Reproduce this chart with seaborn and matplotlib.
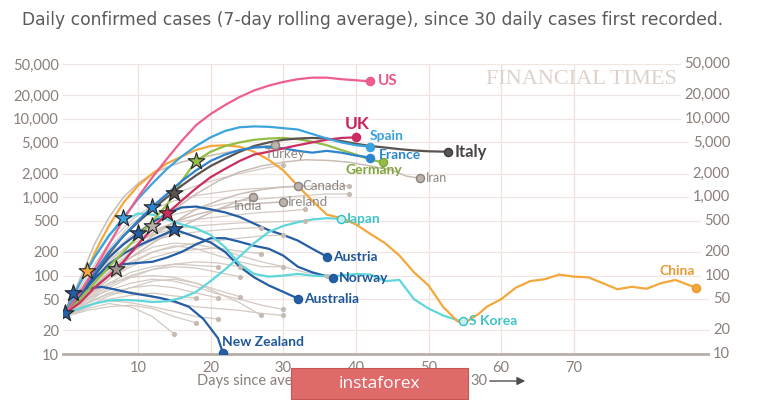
import pandas as pd
import seaborn as sns
import matplotlib.pyplot as plt
from matplotlib.patches import Rectangle
from matplotlib.ticker import NullLocator

# ---- data: days since 30 daily cases, 7-day average of daily cases ----
us_days = [0, 2, 4, 6, 8, 10, 12, 14, 16, 18, 20, 22, 24, 26, 28, 30, 32, 34, 36, 38, 40, 42]
us_vals = [33, 60, 120, 250, 520, 1000, 1800, 3100, 5200, 8300, 11500, 15000, 19000, 23000, 26500, 29500, 32000, 33500, 33500, 32000, 31000, 30000]

spain_days = [0, 2, 4, 6, 8, 10, 12, 14, 16, 18, 20, 22, 24, 26, 28, 30, 32, 34, 36, 38, 40, 42]
spain_vals = [33, 80, 170, 320, 550, 950, 1500, 2300, 3300, 4500, 5800, 7000, 7800, 8000, 7900, 7600, 7300, 6400, 5600, 5000, 4600, 4400]

france_days = [0, 2, 4, 6, 8, 10, 12, 14, 16, 18, 20, 22, 24, 26, 28, 30, 32, 34, 36, 38, 40, 42]
france_vals = [33, 60, 110, 200, 320, 500, 760, 1100, 1600, 2200, 2900, 3500, 4000, 4300, 4400, 4200, 3900, 3700, 3900, 3700, 3400, 3200]

italy_days = [0, 2, 4, 6, 8, 10, 12, 14, 16, 18, 20, 22, 24, 26, 28, 30, 32, 34, 36, 38, 40, 42, 44, 46, 48, 50, 52.7]
italy_vals = [33, 60, 110, 190, 320, 480, 700, 1000, 1400, 1900, 2500, 3100, 3800, 4500, 5000, 5400, 5600, 5700, 5600, 5200, 4800, 4500, 4300, 4100, 3950, 3850, 3800]

germany_days = [0, 2, 4, 6, 8, 10, 12, 14, 16, 18, 20, 22, 24, 26, 28, 30, 32, 34, 36, 38, 40, 42, 43.7]
germany_vals = [33, 50, 80, 130, 200, 320, 500, 800, 1600, 2900, 3800, 4500, 5000, 5400, 5600, 5700, 5500, 5100, 4600, 4000, 3500, 3000, 2800]

uk_days = [0, 2, 4, 6, 8, 10, 12, 14, 16, 18, 20, 22, 24, 26, 28, 30, 32, 34, 36, 38, 40]
uk_vals = [33, 45, 70, 100, 150, 250, 400, 620, 900, 1300, 1800, 2300, 2900, 3500, 3800, 4200, 4600, 5000, 5400, 5700, 5800]

china_days = [0, 1, 2, 3, 4, 5, 6, 8, 10, 12, 14, 16, 18, 20, 22, 24, 26, 28, 30, 32, 34, 36, 38, 40, 42, 44, 46, 48, 50, 52, 54, 55,
              57, 58, 60, 62, 64, 66, 68, 70, 72, 74, 76, 78, 80, 82, 84, 86.8]
china_vals = [33, 55, 80, 116, 190, 290, 430, 850, 1400, 2000, 2700, 3300, 4000, 4500, 4600, 4400, 3800, 3000, 2200, 1400, 900, 600, 540, 450, 340, 260, 180, 110, 75, 40, 26, 25,
              33, 40, 50, 70, 85, 90, 103, 97, 95, 80, 67, 72, 68, 80, 88, 70]

japan_days = [0, 2, 4, 6, 8, 10, 12, 14, 16, 18, 20, 22, 24, 26, 28, 30, 32, 34, 36, 37.9]
japan_vals = [33, 38, 44, 48, 49, 48, 46, 47, 52, 62, 85, 120, 175, 260, 360, 430, 480, 520, 540, 530]

skorea_days = [0, 2, 4, 6, 8, 10, 12, 14, 16, 18, 20, 22, 24, 26, 28, 30, 32, 34, 36, 38, 40, 42, 44, 46, 48, 50, 52, 54, 54.8]
skorea_vals = [33, 80, 170, 330, 500, 620, 600, 520, 450, 400, 330, 230, 140, 105, 97, 100, 105, 100, 98, 100, 105, 103, 85, 88, 50, 38, 31, 27, 26]

austria_days = [0, 2, 4, 6, 8, 10, 12, 14, 16, 18, 20, 22, 24, 26, 28, 30, 32, 34, 36]
austria_vals = [33, 60, 100, 170, 250, 345, 480, 620, 740, 760, 700, 640, 560, 460, 380, 330, 280, 220, 175]

norway_days = [0, 2, 4, 6, 8, 10, 12, 14, 16, 18, 20, 22, 24, 26, 28, 30, 32, 34, 36, 36.8]
norway_vals = [33, 60, 95, 125, 140, 145, 150, 170, 200, 250, 300, 300, 270, 240, 220, 180, 130, 110, 98, 92]

australia_days = [0, 2, 4, 6, 8, 10, 12, 14, 15, 16, 18, 20, 22, 24, 26, 28, 30, 32]
australia_vals = [33, 55, 90, 140, 190, 240, 290, 350, 390, 360, 310, 265, 200, 130, 95, 75, 62, 51]

nz_days = [0, 1, 3, 5, 7, 9, 11, 13, 15, 17, 19, 21, 21.7]
nz_vals = [33, 60, 68, 72, 66, 60, 56, 52, 47, 40, 28, 16, 10.3]

# named grey countries
turkey_days = [0, 2, 4, 6, 8, 10, 12, 14, 16, 18, 20, 22, 24, 26, 28, 28.8]
turkey_vals = [33, 90, 250, 550, 1000, 1500, 2000, 2400, 2800, 3100, 3400, 3700, 4000, 4300, 4550, 4650]
canada_days = [0, 3, 6, 9, 12, 15, 18, 21, 24, 27, 30, 32]
canada_vals = [33, 60, 110, 190, 320, 480, 700, 900, 1100, 1250, 1350, 1380]
india_days = [0, 3, 6, 7, 9, 12, 15, 18, 21, 24, 25.8]
india_vals = [33, 55, 100, 123, 170, 260, 380, 520, 700, 900, 1020]
ireland_days = [0, 3, 6, 9, 12, 15, 18, 21, 24, 27, 30]
ireland_vals = [33, 70, 130, 220, 350, 480, 600, 700, 780, 840, 870]
iran_days = [0, 3, 6, 9, 12, 15, 18, 21, 24, 27, 30, 33, 36, 39, 42, 45, 47, 48.8]
iran_vals = [33, 80, 180, 300, 435, 700, 1100, 1600, 2100, 2500, 2800, 3000, 2950, 2800, 2500, 2200, 1850, 1750]

# other countries (unlabelled), values every 3 days from day 0
grey_step = 3
grey_vals = {
    'g01': [32, 70, 150, 260, 380, 470, 520, 560, 600, 640, 660, 700],
    'g02': [31, 55, 90, 130, 170, 200, 215, 225, 205, 190],
    'g03': [30, 45, 70, 95, 120, 140, 150, 145, 130],
    'g04': [32, 50, 65, 80, 90, 85, 72, 58, 50, 42, 37],
    'g05': [31, 42, 48, 45, 40, 35, 30, 28],
    'g06': [30, 38, 44, 40, 30, 18],
    'g07': [33, 80, 180, 320, 480, 600, 700, 800, 900, 950, 1000, 1050, 1100, 1100],
    'g08': [33, 90, 220, 450, 700, 900, 1050, 1150, 1250, 1300, 1350, 1380, 1400, 1400],
    'g09': [31, 60, 100, 150, 200, 230, 260, 280, 300, 320, 330],
    'g10': [30, 48, 75, 100, 120, 130, 125, 110, 97],
    'g11': [32, 55, 80, 95, 100, 95, 80, 65, 54],
    'g12': [30, 40, 55, 70, 85, 90, 80, 60, 45, 31],
    'g13': [31, 65, 120, 200, 280, 330, 360, 380, 400, 410],
    'g14': [33, 100, 260, 500, 800, 1100, 1400, 1700, 2000, 2300, 2600],
    'g15': [30, 50, 80, 110, 130, 140, 135, 130],
    'g16': [32, 45, 60, 70, 75, 70, 60, 52],
    'g17': [30, 36, 40, 42, 38, 30, 25],
    'g18': [31, 75, 160, 250, 330, 400, 430, 450, 470, 480, 490, 500],
    'g19': [30, 52, 90, 140, 200, 240, 220, 180, 150, 130, 130],
    'g20': [31, 40, 50, 56, 60, 55, 52],
    'g21': [32, 60, 110, 170, 230, 260, 250, 220, 180, 150, 130, 110, 100],
    'g22': [30, 44, 58, 62, 55, 45, 40, 38, 36, 33, 31],
}

# lockdown stars
star_country = ['Australia', 'New Zealand', 'China', 'India', 'Spain', 'Austria',
                'Iran', 'France', 'UK', 'Italy', 'Norway', 'Germany']
star_day = [0, 1, 3, 7, 8, 10, 12, 12, 14, 15, 15, 18]
star_val = [33, 60, 116, 123, 550, 345, 435, 760, 620, 1130, 390, 2900]

y_ticks = [10, 20, 50, 100, 200, 500, 1000, 2000, 5000, 10000, 20000, 50000]
y_labels = ['10', '20', '50', '100', '200', '500', '1,000', '2,000', '5,000', '10,000', '20,000', '50,000']
x_ticks = [10, 20, 30, 40, 50, 60, 70]

title = 'Daily confirmed cases (7-day rolling average), since 30 daily cases first recorded.'

# ---- styling ----
series = {
    'Turkey': (turkey_days, turkey_vals), 'Canada': (canada_days, canada_vals),
    'India': (india_days, india_vals), 'Ireland': (ireland_days, ireland_vals),
    'Iran': (iran_days, iran_vals),
    'New Zealand': (nz_days, nz_vals), 'Australia': (australia_days, australia_vals),
    'Norway': (norway_days, norway_vals), 'Austria': (austria_days, austria_vals),
    'Japan': (japan_days, japan_vals), 'S Korea': (skorea_days, skorea_vals),
    'China': (china_days, china_vals), 'Germany': (germany_days, germany_vals),
    'Italy': (italy_days, italy_vals), 'France': (france_days, france_vals),
    'UK': (uk_days, uk_vals), 'Spain': (spain_days, spain_vals), 'US': (us_days, us_vals),
}
greyc = '#c9bdb5'
dblue = '#245ea5'
line_col = {'Turkey': greyc, 'Canada': greyc, 'India': greyc, 'Ireland': greyc, 'Iran': greyc,
            'New Zealand': dblue, 'Australia': dblue, 'Norway': dblue, 'Austria': dblue,
            'Japan': '#5fd6da', 'S Korea': '#5fd6da', 'China': '#f4a73a', 'Germany': '#93bd45',
            'Italy': '#5a5350', 'France': '#2c84d0', 'UK': '#cc2d60', 'Spain': '#3ba4e0', 'US': '#ee5f8d'}
text_col = {'Turkey': '#8f8681', 'Canada': '#8f8681', 'India': '#8f8681', 'Ireland': '#8f8681', 'Iran': '#8f8681',
            'New Zealand': '#1f579b', 'Australia': '#1f579b', 'Norway': '#1f579b', 'Austria': '#1f579b',
            'Japan': '#3fc3c6', 'S Korea': '#3fc3c6', 'China': '#e99a2f', 'Germany': '#7fa53a',
            'Italy': '#4a4543', 'France': '#2b86d2', 'UK': '#c7255b', 'Spain': '#3aa1dd', 'US': '#e8578a'}
# label offset in pixels from the end marker, alignment, size, bold
label_pos = {'US': (7, 0, 'left', 11, True), 'UK': (1, 13, 'center', 12.5, True),
             'Spain': (-1, 11, 'left', 10, True), 'France': (8, 3, 'left', 10, True),
             'Italy': (6, 0, 'left', 12, True), 'Germany': (-9, -8, 'center', 10, True),
             'Iran': (6, 0, 'left', 9, False), 'Turkey': (-10, -9, 'left', 9.5, False),
             'Canada': (5, 0, 'left', 9.5, False), 'India': (-5, -9, 'center', 9.5, False),
             'Ireland': (4, 0, 'left', 9.5, False), 'Japan': (4, 0, 'left', 10, True),
             'Austria': (6, 0, 'left', 10, True), 'Norway': (6, 0, 'left', 10, True),
             'Australia': (6, 0, 'left', 10, True), 'New Zealand': (-1, 11, 'left', 10, True),
             'S Korea': (6, 0, 'left', 10, True), 'China': (-1, 17, 'right', 10, True)}

rows = []
for name, (d, v) in series.items():
    for di, vi in zip(d, v):
        rows.append((name, di, vi))
df = pd.DataFrame(rows, columns=['country', 'day', 'cases'])

grows = []
for name, v in grey_vals.items():
    for i, vi in enumerate(v):
        grows.append((name, i * grey_step, vi))
gdf = pd.DataFrame(grows, columns=['country', 'day', 'cases'])

sns.set_theme(style='white')
plt.rcParams['font.family'] = ['Lato', 'DejaVu Sans']

fig = plt.figure(figsize=(7.57, 4.0), dpi=100)
ax = fig.add_axes([63 / 757, 46 / 400, (730 - 63) / 757, 290 / 400])

sns.lineplot(data=gdf, x='day', y='cases', units='country', estimator=None, sort=False,
             color='#d3c9c2', lw=0.9, ax=ax, legend=False)
gend = gdf.groupby('country').last()
ax.scatter(gend['day'], gend['cases'], s=14, color='#c6bbb3', zorder=3, lw=0)

grey_named = ['Turkey', 'Canada', 'India', 'Ireland', 'Iran']
sns.lineplot(data=df[df['country'].isin(grey_named)], x='day', y='cases', hue='country',
             hue_order=grey_named, palette=line_col, estimator=None, sort=False, lw=1.1, ax=ax, legend=False)
main = [c for c in series if c not in grey_named]
sns.lineplot(data=df[df['country'].isin(main)], x='day', y='cases', hue='country',
             hue_order=main, palette=line_col, estimator=None, sort=False, lw=1.6, ax=ax, legend=False)

ax.set_yscale('log')
ax.set_ylim(10, 50000)
ax.set_xlim(-0.32, 91.5)

# end markers and labels
for name in series:
    d, v = series[name]
    if name in grey_named:
        fc, ec = '#bdb3ac', '#8a817c'
    elif name in ('Japan', 'S Korea'):
        fc, ec = '#c4f0f0', '#36bcc0'
    else:
        fc, ec = line_col[name], '#3a3a3a' if name == 'Italy' else text_col[name]
    ax.scatter([d[-1]], [v[-1]], s=34, facecolor=fc, edgecolor=ec, lw=1.0, zorder=5)
    dx, dy, ha, fs, bold = label_pos[name]
    ax.annotate(name, (d[-1], v[-1]), xytext=(dx, dy), textcoords='offset pixels',
                ha=ha, va='center', fontsize=fs, color=text_col[name],
                fontweight='bold' if bold else 'normal', zorder=6)

# stars
star_fill = {'Iran': '#b9b0aa', 'India': '#9d958f'}
for name, sd, sv in zip(star_country, star_day, star_val):
    ax.scatter([sd], [sv], marker='*', s=160, facecolor=star_fill.get(name, line_col[name]),
               edgecolor='#222222', lw=0.8, zorder=7)

# axes styling
ax.yaxis.set_minor_locator(NullLocator())
ax.set_yticks(y_ticks)
ax.set_yticklabels(y_labels)
ax.set_xticks(x_ticks)
ax.set_xticklabels([str(t) for t in x_ticks])
ax.tick_params(axis='y', length=0, pad=3, labelsize=10.5, labelcolor='#8a7f79')
ax.tick_params(axis='x', length=0, pad=5, labelsize=10.5, labelcolor='#8a7f79')
ax.set_xlabel('')
ax.set_ylabel('')
ax.xaxis.grid(True, color='#f2e0da', lw=0.9)
ax.yaxis.grid(True, color='#f0e6e1', lw=0.9)
ax.set_axisbelow(True)
for s in ['top', 'right', 'left']:
    ax.spines[s].set_visible(False)
ax.spines['bottom'].set_color('#b9aea7')
ax.spines['bottom'].set_linewidth(2)

# right-hand tick labels
for t, lab in zip(y_ticks, y_labels):
    ax.text(1.0, t, lab, transform=ax.get_yaxis_transform(), ha='right', va='center',
            fontsize=10.5, color='#8a7f79', zorder=8,
            bbox=dict(facecolor='white', edgecolor='none', pad=2.5))

ax.text((677 - 63) / 667, (354 - 80) / 290, 'FINANCIAL TIMES', transform=ax.transAxes,
        ha='right', va='center', fontsize=16, color='#dcd2ca', family='Liberation Serif')

fig.text(22 / 757, 1 - 20 / 400, title, ha='left', va='center', fontsize=12.3,
         color='#5a5a5a', family='DejaVu Sans')
fig.text(197 / 757, 1 - 381 / 400, 'Days since average daily cases passed', ha='left',
         va='center', fontsize=10.5, color='#8a7f79')
fig.text(470 / 757, 1 - 381 / 400, '30', ha='left', va='center', fontsize=10.5, color='#8a7f79')
ax.annotate('', xy=(528, 19), xytext=(487, 19), xycoords='figure pixels', textcoords='figure pixels',
            arrowprops=dict(arrowstyle='-|>', color='#4d4d4d', lw=1.0))

# watermark
fig.patches.append(Rectangle((291 / 757, 1 / 400), 177 / 757, 31 / 400, transform=fig.transFigure,
                             facecolor='#df6a6a', edgecolor='#c95555', lw=0.8, zorder=10))
fig.text(379 / 757, 16 / 400, 'instaforex', ha='center', va='center', fontsize=12.5,
         color='white', family='Open Sans', zorder=11)

fig.savefig('out.png', dpi=100)
